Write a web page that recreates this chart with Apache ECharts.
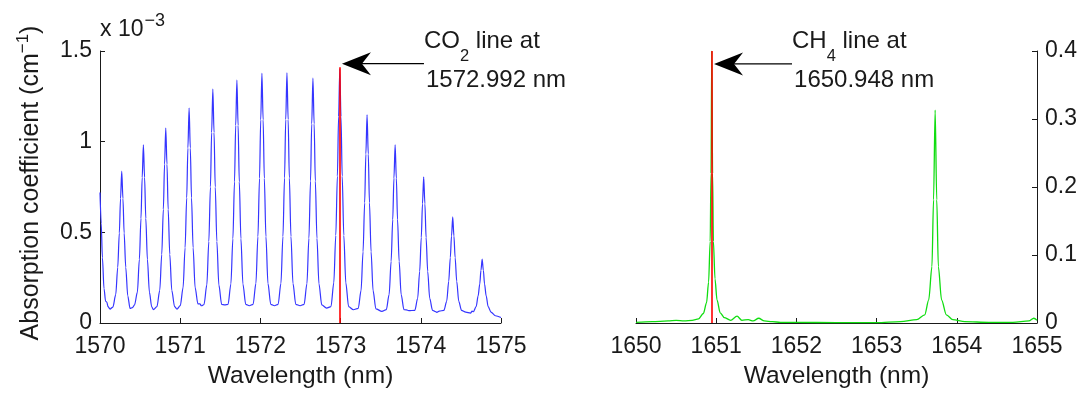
<!DOCTYPE html>
<html><head><meta charset="utf-8">
<script src="https://cdn.jsdelivr.net/npm/echarts@6/dist/echarts.min.js"></script>
<style>html,body{margin:0;padding:0;background:#fff}#c{width:1086px;height:394px}</style>
</head><body><div id="c"></div>
<script>
// ---- data ----
const co2XRange = [1570, 1575], co2XStep = 1;
const co2YRange = [0, 1.5], co2YStep = 0.5;
const ch4XRange = [1650, 1655], ch4XStep = 1;
const ch4YRange = [0, 0.4], ch4YStep = 0.1;

const co2Wavelength = [
1570.000,1570.015,1570.030,1570.050,1570.070,1570.085,1570.100,1570.125,
1570.161,1570.196,1570.221,1570.241,1570.256,1570.271,1570.286,1570.301,1570.321,1570.346,1570.375,1570.405,1570.431,
1570.466,1570.491,1570.511,1570.526,1570.541,1570.556,1570.571,1570.591,1570.616,1570.645,1570.666,
1570.710,1570.745,1570.770,1570.790,1570.805,1570.820,1570.835,1570.850,1570.870,1570.895,1570.930,1570.960,
1571.001,1571.036,1571.061,1571.081,1571.096,1571.111,1571.126,1571.141,1571.161,1571.186,1571.221,1571.245,1571.265,
1571.297,1571.332,1571.357,1571.377,1571.392,1571.407,1571.422,1571.437,1571.457,1571.482,1571.517,1571.555,
1571.597,1571.632,1571.657,1571.677,1571.692,1571.707,1571.722,1571.737,1571.757,1571.782,1571.817,1571.862,
1571.909,1571.944,1571.969,1571.989,1572.004,1572.019,1572.034,1572.049,1572.069,1572.094,1572.129,1572.175,
1572.221,1572.256,1572.281,1572.301,1572.316,1572.331,1572.346,1572.361,1572.381,1572.406,1572.441,1572.495,
1572.545,1572.580,1572.605,1572.625,1572.640,1572.655,1572.670,1572.685,1572.705,1572.730,1572.765,1572.825,
1572.880,1572.915,1572.940,1572.960,1572.975,1572.990,1573.005,1573.020,1573.040,1573.065,1573.100,1573.160,
1573.220,1573.255,1573.280,1573.300,1573.315,1573.330,1573.345,1573.360,1573.380,1573.405,1573.440,1573.515,
1573.570,1573.605,1573.630,1573.650,1573.665,1573.680,1573.695,1573.710,1573.730,1573.755,1573.790,1573.820,1573.850,
1573.926,1573.961,1573.986,1574.006,1574.021,1574.036,1574.051,1574.066,1574.086,1574.111,1574.146,1574.175,1574.200,1574.230,
1574.288,1574.323,1574.348,1574.368,1574.383,1574.398,1574.413,1574.428,1574.448,1574.473,1574.508,1574.560,1574.620,1574.640,
1574.655,1574.690,1574.715,1574.735,1574.750,1574.765,1574.780,1574.795,1574.815,1574.840,1574.875,1574.930,1575.000
];
// absorption coefficient in units of 1e-3 cm^-1
const co2Absorption = [
0.72,0.55,0.36,0.19,0.12,0.115,0.09,0.077,
0.088,0.156,0.307,0.496,0.686,0.837,0.686,0.496,0.307,0.15,0.08,0.085,0.10,
0.17,0.351,0.577,0.802,0.983,0.802,0.577,0.351,0.17,0.089,0.073,
0.09,0.18,0.379,0.627,0.876,1.075,0.876,0.627,0.379,0.18,0.09,0.077,
0.096,0.195,0.415,0.69,0.965,1.185,0.965,0.69,0.415,0.195,0.105,0.105,0.095,
0.102,0.21,0.45,0.75,1.05,1.29,1.05,0.75,0.45,0.21,0.102,0.10,
0.103,0.215,0.465,0.778,1.09,1.34,1.09,0.778,0.465,0.215,0.103,0.095,
0.103,0.219,0.476,0.798,1.12,1.377,1.12,0.798,0.476,0.219,0.103,0.095,
0.103,0.219,0.477,0.80,1.122,1.38,1.122,0.80,0.477,0.219,0.103,0.095,
0.103,0.216,0.468,0.783,1.098,1.35,1.098,0.783,0.468,0.216,0.10,0.082,
0.09,0.221,0.483,0.81,1.138,1.40,1.138,0.81,0.483,0.221,0.09,0.073,
0.081,0.178,0.393,0.663,0.932,1.148,0.932,0.663,0.393,0.178,0.078,0.064,
0.074,0.157,0.34,0.57,0.799,0.983,0.799,0.57,0.34,0.157,0.074,0.072,0.068,
0.07,0.136,0.285,0.471,0.657,0.806,0.657,0.471,0.285,0.136,0.07,0.064,0.059,0.065,
0.07,0.12,0.23,0.36,0.48,0.586,0.48,0.36,0.23,0.12,0.07,0.06,0.055,0.065,
0.062,0.09,0.15,0.215,0.29,0.352,0.29,0.215,0.15,0.09,0.06,0.04,0.03
];

const ch4Wavelength = [
1650.00,1650.20,1650.40,1650.50,1650.60,1650.70,1650.78,1650.84,1650.88,1650.905,1650.925,1650.935,1650.945,
1650.955,1650.965,1650.985,1651.01,1651.05,1651.10,1651.18,1651.26,1651.32,1651.40,1651.46,1651.53,1651.60,1651.70,
1651.80,1652.00,1652.50,1653.00,1653.30,1653.50,1653.60,1653.65,1653.69,1653.71,1653.73,1653.75,1653.77,1653.81,
1653.87,1653.95,1654.10,1654.40,1654.70,1654.90,1654.96,1655.00
];
const ch4Absorption = [
0.001,0.002,0.003,0.004,0.003,0.004,0.006,0.014,0.03,0.06,0.12,0.22,0.40,
0.22,0.12,0.065,0.034,0.015,0.008,0.004,0.010,0.004,0.005,0.003,0.007,0.003,0.002,
0.001,0.001,0.0005,0.0005,0.002,0.005,0.012,0.034,0.083,0.181,0.313,0.181,0.083,0.034,
0.012,0.005,0.002,0.001,0.001,0.003,0.007,0.004
];

const co2Line = { at: 1572.992, top: 1.41, arrowY: 1.43 };
const ch4Line = { at: 1650.948, top: 0.40, arrowY: 0.381 };
const co2Text = ['CO', '2', ' line at', '1572.992 nm'];
const ch4Text = ['CH', '4', ' line at', '1650.948 nm'];

// ---- chart ----
const FONT = '"Liberation Sans", Arial, Helvetica, sans-serif';
const INK = '#1a1a1a';
const chart = echarts.init(document.getElementById('c'), null, { renderer: 'canvas' });
const plain = v => String(+(+v).toFixed(4));

function xAxisFor(grid, range, step) {
  return {
    type: 'value', gridIndex: grid, min: range[0], max: range[1], interval: step,
    axisLine: { show: true, onZero: false, lineStyle: { color: INK, width: 1 } },
    axisTick: { show: true, inside: true, length: 5, lineStyle: { color: INK } },
    splitLine: { show: false },
    axisLabel: { fontFamily: FONT, fontSize: 23, color: INK, margin: 12, formatter: plain },
    name: 'Wavelength (nm)', nameLocation: 'middle', nameGap: 41,
    nameTextStyle: { fontFamily: FONT, fontSize: 24.5, color: INK }
  };
}
function yAxisFor(grid, range, step, pos) {
  return {
    type: 'value', gridIndex: grid, min: range[0], max: range[1], interval: step, position: pos,
    axisLine: { show: true, onZero: false, lineStyle: { color: INK, width: 1 } },
    axisTick: { show: true, inside: true, length: 5, lineStyle: { color: INK } },
    splitLine: { show: false },
    axisLabel: { fontFamily: FONT, fontSize: 23, color: INK, margin: 8, formatter: plain }
  };
}
function redLine(l) {
  return {
    silent: true, symbol: ['none', 'none'], label: { show: false }, animation: false,
    lineStyle: { color: '#ff0000', width: 1.6, type: 'solid' },
    data: [[{ coord: [l.at, 0] }, { coord: [l.at, l.top] }]]
  };
}

const option = {
  backgroundColor: '#ffffff',
  animation: false,
  grid: [
    { left: 100, top: 51, width: 401, height: 273 },
    { left: 636, top: 51, width: 401, height: 272 }
  ],
  xAxis: [xAxisFor(0, co2XRange, co2XStep), xAxisFor(1, ch4XRange, ch4XStep)],
  yAxis: [yAxisFor(0, co2YRange, co2YStep, 'left'), yAxisFor(1, ch4YRange, ch4YStep, 'right')],
  series: [
    {
      type: 'line', xAxisIndex: 0, yAxisIndex: 0, symbol: 'none', showSymbol: false,
      smooth: 0.3, smoothMonotone: 'x',
      data: co2Wavelength.map((w, i) => [w, co2Absorption[i]]),
      lineStyle: { color: '#3535ff', width: 1.2 }, markLine: redLine(co2Line)
    },
    {
      type: 'line', xAxisIndex: 1, yAxisIndex: 1, symbol: 'none', showSymbol: false,
      smooth: 0.3, smoothMonotone: 'x',
      data: ch4Wavelength.map((w, i) => [w, ch4Absorption[i]]),
      lineStyle: { color: '#10dd10', width: 1.3 }, markLine: redLine(ch4Line)
    }
  ]
};
chart.setOption(option);

// ---- annotations (anchored to data via the axes) ----
const mctx = document.createElement('canvas').getContext('2d');
function tw(t, size) { mctx.font = size + 'px ' + FONT; return mctx.measureText(t).width; }
function txt(t, x, y, size) {
  return { type: 'text', x: x, y: y, silent: true,
    style: { text: t, font: size + 'px ' + FONT, fontSize: size, fontFamily: FONT, fill: INK,
      align: 'left', verticalAlign: 'middle', textAlign: 'left', textVerticalAlign: 'middle' } };
}
function annotation(grid, l, parts, len) {
  const p = chart.convertToPixel({ gridIndex: grid }, [l.at, l.arrowY]);
  const tipX = p[0] + 2, y = p[1];
  const tailX = tipX + len;
  const S = 24, s = 16.5;
  const els = [];
  els.push({ type: 'line', silent: true, shape: { x1: tipX + 18, y1: y, x2: tailX, y2: y },
    style: { stroke: '#000', lineWidth: 1.3 } });
  els.push({ type: 'polygon', silent: true,
    shape: { points: [[tipX, y], [tipX + 29, y - 11.5], [tipX + 20, y], [tipX + 29, y + 11.5]] },
    style: { fill: '#000' } });
  const w0 = tw(parts[0], S);
  els.push(txt(parts[0], tailX, y - 22.5, S));
  els.push(txt(parts[1], tailX + w0, y - 7, s));
  els.push(txt(parts[2], tailX + w0 + tw(parts[1], s), y - 22.5, S));
  els.push(txt(parts[3], tailX + 2, y + 16.5, S));
  return els;
}
const g0a = chart.convertToPixel({ gridIndex: 0 }, [co2XRange[0], co2YRange[1]]);
const g0b = chart.convertToPixel({ gridIndex: 0 }, [co2XRange[0], co2YRange[0]]);
const graphics = [];
// exponent label
const expS = 23;
graphics.push(txt('x 10', g0a[0], g0a[1] - 21, expS));
graphics.push(txt('\u22123', g0a[0] + tw('x 10', expS) + 1, g0a[1] - 30, 18));
// y-axis name with superscript
const yS = 25, ySup = 17;
const t1 = 'Absorption coefficient (cm', t2 = '\u22121', t3 = ')';
const total = tw(t1, yS) + tw(t2, ySup) + tw(t3, yS);
const cx = g0a[0] - 69, cy = (g0a[1] + g0b[1]) / 2 - 4;
graphics.push({ type: 'group', x: cx, y: cy, rotation: Math.PI / 2, children: [
  txt(t1, -total / 2, 0, yS),
  txt(t2, -total / 2 + tw(t1, yS), -8, ySup),
  txt(t3, -total / 2 + tw(t1, yS) + tw(t2, ySup), 0, yS)
] });
annotation(0, co2Line, co2Text, 82).forEach(e => graphics.push(e));
annotation(1, ch4Line, ch4Text, 78).forEach(e => graphics.push(e));
chart.setOption({ graphic: graphics });
</script>
</body></html>
